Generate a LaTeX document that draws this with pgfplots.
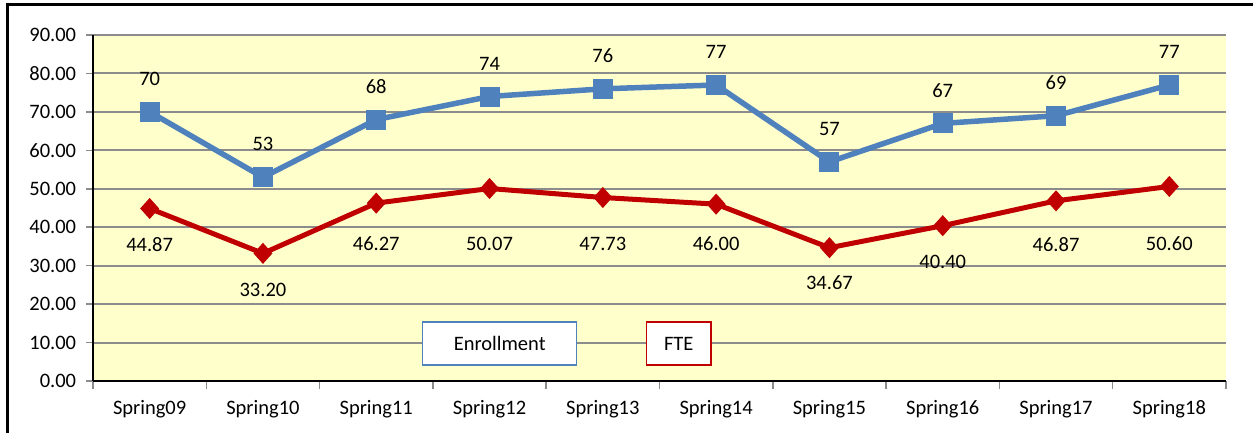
\documentclass[border=0pt]{standalone}
\usepackage{fontspec}
\setmainfont{Carlito}
\usepackage{pgfplots}
\pgfplotsset{compat=1.18}
\definecolor{encol}{HTML}{4F81BD}
\definecolor{ftecol}{HTML}{C00000}
\definecolor{bgy}{HTML}{FFFFCC}
\definecolor{gridc}{HTML}{8C8C8C}
\begin{document}
\fontsize{20}{24}\selectfont
\begin{tikzpicture}
\path[use as bounding box] (0,0) rectangle (1253pt,433pt);
\draw[line width=3pt] (7pt,0) -- (7pt,428pt) -- (1253pt,428pt);
\begin{axis}[
  at={(93pt,52pt)}, anchor=south west,
  width=1133pt, height=346pt, scale only axis,
  xmin=-0.5, xmax=9.5, ymin=0, ymax=90,
  clip=false,
  axis background/.style={fill=bgy},
  axis x line*=bottom, axis y line*=left,
  axis line style={black, line width=1.5pt},
  /pgf/number format/assume math mode=true,
  ytick={0,10,...,90},
  yticklabel style={xshift=-3pt, /pgf/number format/fixed, /pgf/number format/fixed zerofill, /pgf/number format/precision=2},
  ymajorgrids,
  major grid style={gridc, line width=2pt},
  tick align=outside,
  major tick length=7pt,
  minor tick length=8pt,
  major y tick style={gridc, line width=1.5pt},
  xtick={0,...,9},
  xticklabels={Spring09,Spring10,Spring11,Spring12,Spring13,Spring14,Spring15,Spring16,Spring17,Spring18},
  major x tick style={draw=none},
  minor xtick={-0.5,0.5,...,9.5},
  minor x tick style={gridc, line width=1.5pt},
  xticklabel style={yshift=-6pt},
  ticklabel style={font=\fontsize{20.5}{24}\selectfont},
]
\addplot[encol, line width=5.5pt, mark=square*, mark size=9.5pt,
  mark options={solid, line width=1pt},
  nodes near coords,
  every node near coord/.style={anchor=center, yshift=33pt, black, font=\fontsize{20.5}{24}\selectfont}]
  coordinates {(0,70) (1,53) (2,68) (3,74) (4,76) (5,77) (6,57) (7,67) (8,69) (9,77)};
\addplot[ftecol, line width=5pt, mark=diamond*, mark size=9.8pt,
  mark options={solid, line width=1pt, xscale=1.2}]
  coordinates {(0,44.87) (1,33.20) (2,46.27) (3,50.07) (4,47.73) (5,46.00) (6,34.67) (7,40.40) (8,46.87) (9,50.60)};
\begin{scope}[font=\fontsize{20.5}{24}\selectfont]
\node at (axis cs:0,35.6) {44.87};
\node at (axis cs:1,23.8) {33.20};
\node at (axis cs:2,35.6) {46.27};
\node at (axis cs:3,35.6) {50.07};
\node at (axis cs:4,35.6) {47.73};
\node at (axis cs:5,35.6) {46.00};
\node at (axis cs:6,25.5) {34.67};
\node at (axis cs:7,31.0) {40.40};
\node at (axis cs:8,35.6) {46.87};
\node at (axis cs:9,35.6) {50.60};
\node[draw=encol, line width=1.5pt, fill=white, minimum width=154pt, minimum height=43pt] at (axis cs:3.09,9.76) {Enrollment};
\node[draw=ftecol, line width=1.5pt, fill=white, minimum width=64pt, minimum height=43pt] at (axis cs:4.67,9.76) {FTE};
\end{scope}
\end{axis}
\end{tikzpicture}
\end{document}
